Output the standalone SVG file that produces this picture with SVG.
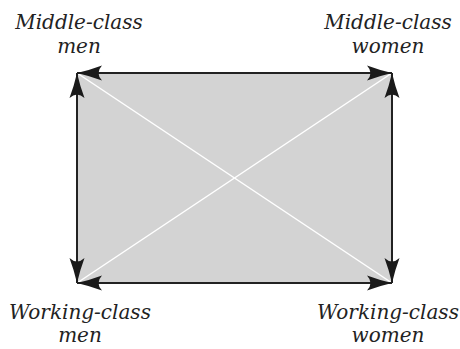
<svg xmlns="http://www.w3.org/2000/svg" width="460" height="349" viewBox="0 0 460 349">
<style>
text{font-family:'DejaVu Serif','Liberation Serif',serif;font-style:italic;font-size:20px;fill:#222;text-anchor:middle}
.edge{stroke:#222;stroke-width:2;fill:none}
.diag{stroke:#fff;stroke-width:1.5}
</style>
<defs>
<marker id="ah" viewBox="0 0 26 16" refX="25" refY="8" markerWidth="26" markerHeight="16" markerUnits="userSpaceOnUse" orient="auto-start-reverse">
<path d="M25,8 Q12,5 0,0.5 Q7,8 0,15.5 Q12,11 25,8 Z" fill="#1a1a1a"/>
</marker>
</defs>
<g id="field">
<rect x="77" y="73" width="315" height="210" fill="#d3d3d3"/>
<line class="diag" x1="77" y1="73" x2="392" y2="283"/>
<line class="diag" x1="392" y1="73" x2="77" y2="283"/>
</g>
<g id="connectors">
<line class="edge" x1="77" y1="73" x2="392" y2="73" marker-start="url(#ah)" marker-end="url(#ah)"/>
<line class="edge" x1="77" y1="283" x2="392" y2="283" marker-start="url(#ah)" marker-end="url(#ah)"/>
<line class="edge" x1="77" y1="73" x2="77" y2="283" marker-start="url(#ah)" marker-end="url(#ah)"/>
<line class="edge" x1="392" y1="73" x2="392" y2="283" marker-start="url(#ah)" marker-end="url(#ah)"/>
</g>
<g id="middle-men"><text x="79" y="29">Middle-class</text><text x="79" y="53">men</text></g>
<g id="middle-women"><text x="388" y="29">Middle-class</text><text x="388" y="53">women</text></g>
<g id="working-men"><text x="80" y="319">Working-class</text><text x="80" y="342">men</text></g>
<g id="working-women"><text x="388" y="319">Working-class</text><text x="388" y="342">women</text></g>
</svg>
